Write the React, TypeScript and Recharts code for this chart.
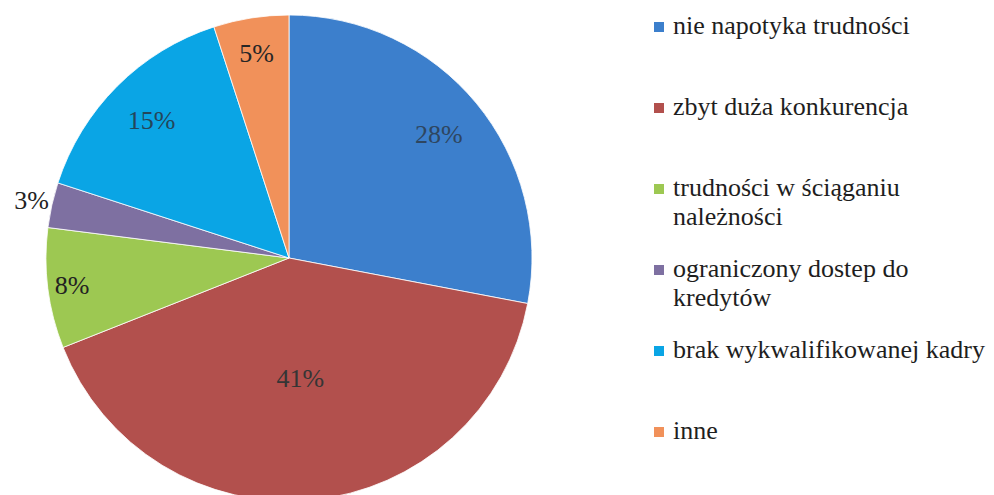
import React from "react";
import { Cell, Legend, Pie, PieChart } from "recharts";

const categories = [
  "nie napotyka trudności",
  "zbyt duża konkurencja",
  "trudności w ściąganiu należności",
  "ograniczony dostep do kredytów",
  "brak wykwalifikowanej kadry",
  "inne",
];
const shares = [28, 41, 8, 3, 15, 5];

const colors = ["#3c7fcc", "#b2504d", "#9dc852", "#7e70a1", "#0aa5e5", "#f1915a"];
const labelColors = ["#2e4660", "#353535", "#222222", "#222222", "#24465a", "#262626"];
// how far out each label sits, as a share of the radius
const labelRadius = [0.8, 0.5, 0.9, 1.085, 0.8, 0.85];

const FONT = "'Liberation Serif', 'Times New Roman', serif";
const RAD = Math.PI / 180;

const data = categories.map((name, i) => ({ name, value: shares[i] }));

const renderLabel = (props: any) => {
  const { cx, cy, midAngle, outerRadius, index, value } = props;
  const r = outerRadius * labelRadius[index];
  const x = cx + r * Math.cos(-midAngle * RAD);
  const y = cy + r * Math.sin(-midAngle * RAD);
  return (
    <text
      x={x}
      y={y}
      fill={labelColors[index]}
      textAnchor="middle"
      dominantBaseline="central"
      fontFamily={FONT}
      fontSize={26}
    >
      {`${value}%`}
    </text>
  );
};

const renderLegend = (props: any) => {
  // keep the order of the categories, not the alphabetical one
  const items = [...(props.payload || [])].sort(
    (a: any, b: any) => categories.indexOf(a.value) - categories.indexOf(b.value)
  );
  return (
    <div style={{ fontFamily: FONT, fontSize: 26, color: "#1e1e1e" }}>
      {items.map((item: any, i: number) => (
        <div key={i} style={{ height: 81, display: "flex", alignItems: "flex-start" }}>
          <span
            style={{
              display: "inline-block",
              width: 10,
              height: 10,
              marginTop: 11,
              marginRight: 9,
              background: item.color || colors[i],
              flexShrink: 0,
            }}
          />
          <span style={{ lineHeight: "29px", maxWidth: 325 }}>{item.value}</span>
        </div>
      ))}
    </div>
  );
};

const App = () => {
  return (
    <div style={{ position: "absolute", left: 0, top: 0, background: "#fff" }}>
      <PieChart width={994} height={495} margin={{ top: 0, right: 0, bottom: 0, left: 0 }}>
        <Pie
          data={data}
          dataKey="value"
          nameKey="name"
          cx={289}
          cy={258}
          outerRadius={243}
          startAngle={90}
          endAngle={-270}
          stroke="#ffffff"
          strokeWidth={0.8}
          label={renderLabel}
          labelLine={false}
          isAnimationActive={false}
        >
          {data.map((d, i) => (
            <Cell key={d.name} fill={colors[i]} />
          ))}
        </Pie>
        <Legend
          layout="vertical"
          align="right"
          verticalAlign="top"
          itemSorter={null as any}
          content={renderLegend}
          wrapperStyle={{ left: 654, right: "auto", top: 11, width: 340 }}
        />
      </PieChart>
    </div>
  );
};

export default App;
